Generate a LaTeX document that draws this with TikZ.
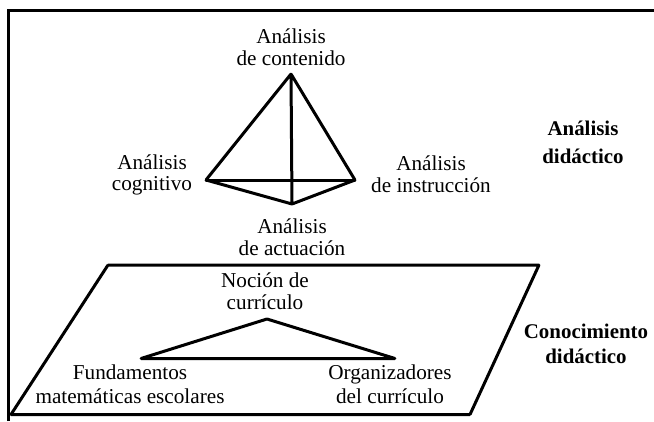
\documentclass[tikz,border=0pt]{standalone}
\usepackage{fontspec}
\setmainfont{Liberation Serif}
\usetikzlibrary{positioning}
\tikzset{
	rotulo/.style={inner sep=0pt,align=center,font=\fontsize{21.2}{21.8}\selectfont},
	titulo/.style={rotulo,font=\fontsize{20.9}{25}\selectfont\bfseries},
	vertice/.style={inner sep=0pt,minimum size=0pt},
	linea/.style={black,line width=3pt,line join=round,line cap=round},
}
\begin{document}
\begin{tikzpicture}[x=1pt,y=-1pt]
	\useasboundingbox (0,0) rectangle (654,421);
	\coordinate (marcoA) at (8.5,421);
	\coordinate (marcoB) at (8.5,10);
	\coordinate (marcoC) at (654,10);
	\draw [linea,line cap=butt,line join=miter] (marcoA) -- (marcoB) -- (marcoC);
	% tetraedro
	\node [vertice] (contenido) at (291,74) {};
	\node [vertice] (cognitivo) at (206,180) {};
	\node [vertice] (instruccion) at (355,180) {};
	\node [vertice] (actuacion) at (292,204) {};
	\draw [linea] (contenido) -- (cognitivo) -- (actuacion) -- (instruccion) -- (contenido) -- (actuacion);
	\draw [linea] (cognitivo) -- (instruccion);
	\node [rotulo] (Tcontenido) at (291,47) {Análisis\\de contenido};
	\node [rotulo] (Tcognitivo) at (152,175) {Análisis\\cognitivo};
	\node [rotulo] (Tinstruccion) at (431,174) {Análisis\\de instrucción};
	\node [rotulo] (Tactuacion) at (292,237) {Análisis\\de actuación};
	\node [titulo] (Tanalisis) at (583,142) {Análisis\\[3pt]didáctico};
	% plano
	\node [vertice] (planoA) at (108,265) {};
	\node [vertice] (planoB) at (539,265) {};
	\node [vertice] (planoC) at (470,414.5) {};
	\node [vertice] (planoD) at (11,414.5) {};
	\draw [linea] (planoA) -- (planoB) -- (planoC) -- (planoD) -- (planoA);
	% triangulo
	\node [vertice] (nocion) at (267,319) {};
	\node [vertice] (fundamentos) at (141,358.5) {};
	\node [vertice] (organizadores) at (395,358.5) {};
	\draw [linea] (nocion) -- (fundamentos) -- (organizadores) -- (nocion);
	\node [rotulo] (Tnocion) at (265,291) {Noción de\\currículo};
	\node [rotulo] (Tfundamentos) at (130,384) {Fundamentos\\[2pt]matemáticas escolares};
	\node [rotulo] (Torganizadores) at (390,384) {Organizadores\\[2pt]del currículo};
	\node [titulo] (Tconocimiento) at (586,344) {Conocimiento\\didáctico};
\end{tikzpicture}
\end{document}
